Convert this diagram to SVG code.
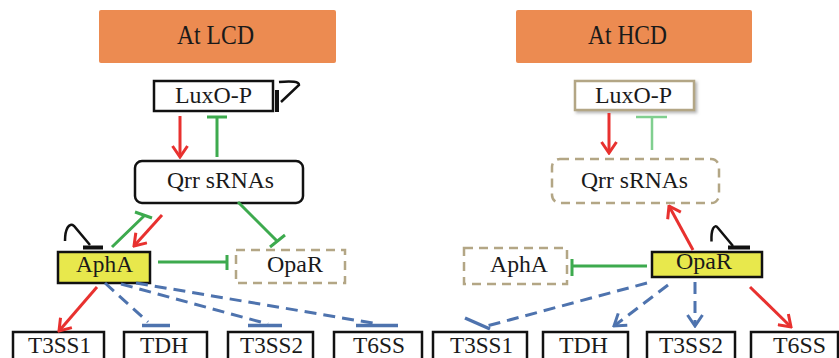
<svg xmlns="http://www.w3.org/2000/svg" width="839" height="358" viewBox="0 0 839 358">
<style>
text{font-family:"Liberation Serif","Times New Roman",serif;fill:#1a1a1a;text-anchor:middle;}
.hdr{fill:#EC8B51;}
.ht{font-size:27px;}
.nt{font-size:24px;}
.bt{font-size:23px;}
.box{fill:#fff;stroke:#111;stroke-width:2.5;}
.tan{fill:#fff;stroke:#B3A685;stroke-width:2.5;stroke-dasharray:9,6;}
.tanS{fill:#fff;stroke:#B3A685;stroke-width:2.5;}
.yel{fill:#E8E84C;stroke:#111;stroke-width:2.5;}
.red{stroke:#E8312F;stroke-width:3;fill:none;marker-end:url(#ar);}
.grn{stroke:#3DAA4E;stroke-width:3;fill:none;}
.lgrn{stroke:#80CF8F;stroke-width:2.5;fill:none;}
.blu{stroke:#4E73AE;stroke-width:3;fill:none;stroke-dasharray:12,7;}
.blub{stroke:#4E73AE;stroke-width:3.5;fill:none;}
.blk{stroke:#111;stroke-width:2.5;fill:none;}
.blkb{stroke:#111;stroke-width:4;fill:none;}
</style>
<defs>
<marker id="ar" viewBox="0 0 14 18" refX="12.5" refY="9" markerWidth="14" markerHeight="18" markerUnits="userSpaceOnUse" orient="auto">
<path d="M1.5,1.5 L12.5,9 L1.5,16.5" fill="none" stroke="#E8312F" stroke-width="3"/>
</marker>
<marker id="ab" viewBox="0 0 14 18" refX="12.5" refY="9" markerWidth="14" markerHeight="18" markerUnits="userSpaceOnUse" orient="auto">
<path d="M1.5,1.5 L12.5,9 L1.5,16.5" fill="none" stroke="#4E73AE" stroke-width="3"/>
</marker>
<filter id="sh" x="-10%" y="-20%" width="130%" height="160%">
<feDropShadow dx="2" dy="2" stdDeviation="1.5" flood-color="#888" flood-opacity="0.6"/>
</filter>
</defs>

<g id="hdr-lcd"><rect class="hdr" x="99" y="10" width="237" height="53" rx="2"/><text class="ht" x="215.5" y="44" textLength="77" lengthAdjust="spacingAndGlyphs">At LCD</text></g>
<g id="hdr-hcd"><rect class="hdr" x="516" y="10" width="236" height="53" rx="2"/><text class="ht" x="627.5" y="44" textLength="79" lengthAdjust="spacingAndGlyphs">At HCD</text></g>

<g id="luxo-l"><rect class="box" x="154" y="81" width="119" height="30"/><text class="nt" x="213.5" y="103" textLength="77" lengthAdjust="spacingAndGlyphs">LuxO-P</text>
<path class="blk" d="M279,82 Q299,80 299,85 L281,102"/><path class="blkb" d="M277,90 L277,112"/></g>
<g id="qrr-l"><rect class="box" x="135" y="161" width="168" height="42" rx="7"/><text class="nt" x="220.5" y="188" textLength="107" lengthAdjust="spacingAndGlyphs">Qrr sRNAs</text></g>
<g id="apha-l"><rect class="yel" x="58" y="252" width="92" height="31"/><text class="nt" x="104.5" y="272" textLength="57" lengthAdjust="spacingAndGlyphs">AphA</text>
<path class="blk" d="M65,241 C65,229 69,222 74,226 L90,245"/><path class="blkb" d="M83,247.5 L103,247.5"/></g>
<g id="opar-l"><rect class="tan" x="236" y="250" width="109" height="33"/><text class="nt" x="295" y="272" textLength="56" lengthAdjust="spacingAndGlyphs">OpaR</text></g>

<g id="luxo-r"><rect class="tanS" x="575" y="81" width="119" height="29" filter="url(#sh)"/><text class="nt" x="633.5" y="103" textLength="77" lengthAdjust="spacingAndGlyphs">LuxO-P</text></g>
<g id="qrr-r"><rect class="tan" x="552" y="159" width="167" height="44" rx="8"/><text class="nt" x="634.5" y="188" textLength="107" lengthAdjust="spacingAndGlyphs">Qrr sRNAs</text></g>
<g id="apha-r"><rect class="tan" x="464" y="248" width="103" height="36"/><text class="nt" x="519" y="272" textLength="58" lengthAdjust="spacingAndGlyphs">AphA</text></g>
<g id="opar-r"><rect class="yel" x="652" y="252" width="110" height="25"/><text class="nt" x="704" y="269" textLength="56" lengthAdjust="spacingAndGlyphs">OpaR</text>
<path class="blk" d="M711.5,241.5 C711,230 714,223 718,228 L733,246"/><path class="blkb" d="M728,247.5 L750,247.5"/></g>

<g id="t3ss1-l"><rect class="box" x="13" y="332" width="91" height="40"/><text class="bt" x="59.5" y="352.5" textLength="63" lengthAdjust="spacingAndGlyphs">T3SS1</text></g>
<g id="tdh-l"><rect class="box" x="124" y="332" width="83" height="40"/><text class="bt" x="164" y="352.5" textLength="48" lengthAdjust="spacingAndGlyphs">TDH</text></g>
<g id="t3ss2-l"><rect class="box" x="228" y="332" width="85" height="40"/><text class="bt" x="271.5" y="352.5" textLength="63" lengthAdjust="spacingAndGlyphs">T3SS2</text></g>
<g id="t6ss-l"><rect class="box" x="334" y="332" width="88" height="40"/><text class="bt" x="379" y="352.5" textLength="52" lengthAdjust="spacingAndGlyphs">T6SS</text></g>
<g id="t3ss1-r"><rect class="box" x="433" y="332" width="94" height="40"/><text class="bt" x="481.5" y="352.5" textLength="63" lengthAdjust="spacingAndGlyphs">T3SS1</text></g>
<g id="tdh-r"><rect class="box" x="543" y="332" width="85" height="40"/><text class="bt" x="583.5" y="352.5" textLength="49" lengthAdjust="spacingAndGlyphs">TDH</text></g>
<g id="t3ss2-r"><rect class="box" x="647" y="332" width="88" height="40"/><text class="bt" x="691" y="352.5" textLength="64" lengthAdjust="spacingAndGlyphs">T3SS2</text></g>
<g id="t6ss-r"><rect class="box" x="751" y="332" width="87" height="40"/><text class="bt" x="799.5" y="352.5" textLength="53" lengthAdjust="spacingAndGlyphs">T6SS</text></g>

<g id="connectors">
<path class="red" d="M180,116 L180,157"/>
<path class="grn" d="M217,157 L217,117 M207,117 L227,117"/>
<path class="red" d="M162,215 L134,246"/>
<path class="grn" d="M112,247 L145,215 M135,212 L152,218"/>
<path class="grn" d="M238,202 L277,241 M270,247 L285,235"/>
<path class="grn" d="M158,262 L227,262 M227,255 L227,270"/>
<path class="red" d="M97,287 L59,331"/>
<path class="blu" d="M105,283 L148,322"/><path class="blub" d="M142,325.5 L170,325.5"/>
<path class="blu" d="M121,284 L268,324"/><path class="blub" d="M248,325.5 L282,325.5"/>
<path class="blu" d="M136,283 L378,324"/><path class="blub" d="M356,325.5 L398,325.5"/>

<path class="red" d="M609,113 L609,153"/>
<path class="lgrn" d="M652,150 L652,117 M636,117 L667,117"/>
<path class="red" d="M693,250 L669,206"/>
<path class="grn" d="M647,266 L573,266 M572,259 L572,276"/>
<path class="blu" d="M647,283 L487,326"/><path class="blub" d="M465,318 L490,329"/>
<path class="blu" d="M668,285 L614,326" marker-end="url(#ab)"/>
<path class="blu" d="M695,282 L695,326" marker-end="url(#ab)"/>
<path class="red" d="M750,287 L791,327"/>
</g>
</svg>
